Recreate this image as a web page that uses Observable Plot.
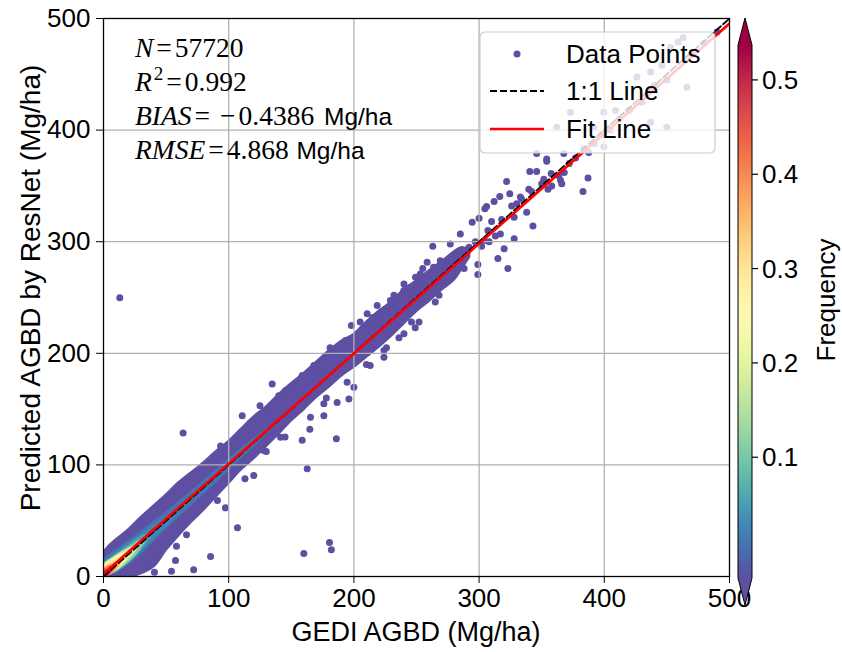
<!DOCTYPE html>
<html><head><meta charset="utf-8">
<script src="https://cdn.jsdelivr.net/npm/d3@7"></script>
<script src="https://cdn.jsdelivr.net/npm/@observablehq/plot@0.6"></script>
<style>
body{margin:0;background:#fff}
#chart{position:relative;width:842px;height:652px}
</style>
</head><body><div id="chart"></div>
<script>
// ---------- data ----------
const xTicks = [0, 100, 200, 300, 400, 500];
const yTicks = [0, 100, 200, 300, 400, 500];
const cbTicks = [0.1, 0.2, 0.3, 0.4, 0.5];

// statistics box
const statN = 57720, statR2 = "0.992", statBias = "0.4386", statRmse = "4.868";

// envelope of the dense point cloud (GEDI x, predicted lower / upper)
const bandX  = [0, 5, 10, 20, 30, 40, 50, 60, 70, 80, 90, 100, 110, 120, 130, 140, 150, 160, 170, 180, 190, 200, 210, 220, 230, 240, 250, 260, 270, 280, 286, 292];
const bandLo = [0, 0, 0, 0, 3, 9, 24, 37, 49, 60, 72, 84, 96, 106, 117, 128, 140, 150, 161, 170, 180, 188, 197, 206, 216, 227, 238, 247, 257, 266, 276, 286];
const bandHi = [20, 27, 32, 41, 52, 62, 72, 83, 92, 101, 111, 120, 131, 142, 151, 162, 172, 181, 191, 201, 210, 216, 227, 237, 245, 256, 264, 273, 281, 290, 294, 292];

// density levels near the origin (frequency, x, lower, upper)
const coreFreq = [0.008, 0.025, 0.06, 0.11, 0.17, 0.23, 0.29, 0.36, 0.43, 0.50];
const coreX  = [[0, 20, 50, 80, 110, 140], [0, 10, 20, 40, 60, 75], [0, 10, 20, 30, 40], [0, 10, 20, 28, 34], [0, 8, 16, 24, 28], [0, 6, 12, 18, 23], [0, 5, 10, 15, 19], [0, 5, 10, 14], [0, 4, 8, 11], [0, 3, 6, 8]];
const coreLo = [[0, 10, 42, 73, 105, 137], [0, 3, 11, 33, 56, 74], [0, 4, 12, 23, 38], [0, 4, 12, 21, 32], [0, 3, 10, 19, 26], [0, 2, 7, 14, 21], [0, 2, 6, 11, 17], [0, 1, 5, 11], [0, 1, 4, 9], [0, 0, 3, 7]];
const coreHi = [[16, 32, 58, 86, 115, 140], [13, 21, 30, 46, 62, 75], [12, 20, 28, 36, 40], [12, 19, 26, 32, 34], [11, 17, 23, 27, 28], [10, 15, 19, 22, 23], [9, 13, 16, 18, 19], [7, 11, 13, 14], [6, 9, 10, 11], [4, 6, 7, 8]];

// individual scattered points
const ptX = [40.7, 54.3, 57.5, 58.3, 66.3, 72, 85.5, 91, 97.4, 107, 113, 120, 93.5, 63.6, 13, 110.8, 134.7, 158.7, 162.7, 186, 160, 180.5, 182, 164.8, 186.6, 196, 200, 198, 176, 213, 224, 249, 265, 258.5, 245, 253, 263, 263.6, 269, 274.5, 277, 285, 285, 290, 294.5, 299, 299, 300, 304, 304.6, 306, 307, 312, 315, 316.5, 317, 320, 322, 323, 324.5, 328, 328, 330, 333, 338, 339.7, 340.5, 343, 346, 351.7, 354, 357.6, 358, 363.7, 365, 366, 383, 387, 362, 346, 354, 367.6, 373, 383.6, 387.6, 391.6, 399.6, 399.6, 409, 426, 437, 437, 446, 450, 453, 459, 463, 466,
  282, 288, 292, 297, 302, 308, 310, 313, 318, 326, 334, 342, 350, 355, 368, 372, 377, 392, 398, 405, 412, 420, 430, 440, 450, 470, 480, 490,
  205, 215, 232, 240, 255, 210, 226, 236, 268, 246, 125, 140, 145, 130, 170, 178, 181,
  145.4, 158.7, 168, 181.3, 193.3, 210.6, 218.6, 229.2, 239.9, 249.2, 128, 141.4, 165.3, 176, 194.6, 224, 240, 252];
const ptY = [3.9, 4.8, 14.3, 27, 37.4, 6, 18, 68, 61.5, 43.6, 87.5, 90.5, 117, 128.5, 249.7, 144, 172.6, 122, 96.5, 123.4, 20.6, 30.5, 24, 132, 156, 159, 169.6, 225, 144, 189, 202.5, 223, 246, 281.6, 259, 271, 296, 277, 283, 268, 298, 307, 286, 289, 317.5, 270.6, 279.6, 321, 301, 329.5, 331.5, 310, 336, 285, 340.5, 307, 293.6, 354, 276, 343, 302.6, 322, 334, 340, 326.5, 347, 363, 314, 363, 356, 372, 361, 350, 359, 355, 352, 345, 357, 402.6, 379, 374, 379, 416, 383, 380, 402.6, 416, 385, 417.6, 447.5, 452, 407, 458, 402.6, 474, 479, 483, 438.5,
  280, 276, 295, 300, 296, 300, 318, 305, 320, 332, 338, 345, 352, 347, 362, 370, 375, 388, 396, 400, 410, 418, 425, 440, 445, 468, 478, 488,
  228, 232, 252, 262, 276, 190, 205, 214, 252, 228, 153, 162, 125, 112, 188, 160, 205,
  166.7, 180, 189, 204, 211.5, 235.4, 242.8, 247.3, 256.3, 268.2, 113, 124.8, 142.7, 154.7, 174, 196.5, 217.5, 228];

// reference lines
const oneX = [0, 500], oneY = [0, 500];
const fitX = [0, 500], fitY = [2.5, 495.5];

// colorbar range (frequency)
const cbMin = -0.028, cbMax = 0.537;

// ---------- build ----------
const band = bandX.map((x, i) => ({x, lo: bandLo[i], hi: bandHi[i]}));
const pts = ptX.map((x, i) => ({x, y: ptY[i]}));
const core = [];
coreFreq.forEach((f, k) => coreX[k].forEach((x, i) => core.push({x, lo: coreLo[k][i], hi: coreHi[k][i], f})));
const oneLine = oneX.map((x, i) => ({x, y: oneY[i]}));
const fitLine = fitX.map((x, i) => ({x, y: fitY[i]}));
const PURPLE = "#5e4fa2";
const SANS = "'Liberation Sans', Arial, sans-serif";

const plot = Plot.plot({
  width: 842, height: 652,
  marginLeft: 103, marginRight: 113, marginTop: 18, marginBottom: 76,
  style: {fontFamily: SANS, fontSize: "26px", color: "#000", background: "#fff", overflow: "visible"},
  x: {domain: [0, 500], ticks: xTicks, tickSize: 7, tickPadding: 5, label: null},
  y: {domain: [0, 500], ticks: yTicks, tickSize: 7, tickPadding: 6, label: null},
  color: {type: "linear", domain: [cbMin, cbMax], scheme: "spectral", reverse: true},
  marks: [
    Plot.areaY(band, {x: "x", y1: "lo", y2: "hi", fill: PURPLE, stroke: PURPLE, strokeWidth: 3.5, strokeLinejoin: "round", curve: "catmull-rom", clip: true}),
    Plot.dot(pts, {x: "x", y: "y", r: 3.5, fill: PURPLE, stroke: "none", clip: true}),
    Plot.areaY(core, {x: "x", y1: "lo", y2: "hi", z: "f", fill: "f", curve: "catmull-rom", clip: true}),
    Plot.ruleX(xTicks.slice(1, -1), {stroke: "#b0b0b0", strokeWidth: 1.3}),
    Plot.ruleY(yTicks.slice(1, -1), {stroke: "#b0b0b0", strokeWidth: 1.3}),
    Plot.line(oneLine, {x: "x", y: "y", stroke: "#000", strokeWidth: 1.8, strokeDasharray: "7,3", clip: true}),
    Plot.line(fitLine, {x: "x", y: "y", stroke: "#ff0000", strokeWidth: 2.6, clip: true}),
    Plot.frame({stroke: "#000", strokeWidth: 1.3})
  ]
});
document.getElementById("chart").appendChild(plot);

const svg = d3.select(plot);
const defs = svg.append("defs");

// ---------- legend ----------
const lg = svg.append("g").attr("font-size", 26).attr("font-family", SANS).attr("text-anchor", "start");
lg.append("rect").attr("x", 480).attr("y", 32).attr("width", 235).attr("height", 121).attr("rx", 5)
  .attr("fill", "#fff").attr("fill-opacity", 0.8).attr("stroke", "#cccccc").attr("stroke-width", 1.2);
lg.append("circle").attr("cx", 517).attr("cy", 54).attr("r", 3.5).attr("fill", PURPLE);
lg.append("line").attr("x1", 490).attr("x2", 544).attr("y1", 91).attr("y2", 91).attr("stroke", "#000").attr("stroke-width", 1.8).attr("stroke-dasharray", "7,3");
lg.append("line").attr("x1", 490).attr("x2", 544).attr("y1", 129).attr("y2", 129).attr("stroke", "#ff0000").attr("stroke-width", 2.6);
[["Data Points", 54], ["1:1 Line", 91], ["Fit Line", 129]].forEach(([t, y]) =>
  lg.append("text").attr("x", 566).attr("y", y).attr("dy", "0.35em").attr("fill", "#000").text(t));

// ---------- statistics text ----------
const st = svg.append("g").attr("font-size", 27.5).attr("fill", "#000").attr("text-anchor", "start")
  .attr("font-family", "'Liberation Serif', 'Times New Roman', serif");
function mathLine(y, parts) {
  const t = st.append("text").attr("x", 135).attr("y", y);
  parts.forEach(p => {
    const s = t.append("tspan").text(p.t);
    if (p.i) s.attr("font-style", "italic");
    if (p.sans) s.attr("font-family", SANS).attr("font-size", 24.5);
    if (p.dx) s.attr("dx", p.dx);
    if (p.dy) s.attr("dy", p.dy);
    if (p.fs) s.attr("font-size", p.fs);
  });
}
mathLine(57, [{t: "N", i: 1}, {t: "=", dx: 3}, {t: String(statN), dx: 3}]);
mathLine(91, [{t: "R", i: 1}, {t: "2", fs: 19, dy: -11, dx: 2}, {t: "=", dy: 11, dx: 3}, {t: statR2, dx: 3}]);
mathLine(125, [{t: "BIAS", i: 1}, {t: "=", dx: 3}, {t: "\u2212", dx: 10}, {t: statBias, dx: 3}, {t: "\u00a0Mg/ha", sans: 1, dx: 3}]);
mathLine(159, [{t: "RMSE", i: 1}, {t: "=", dx: 3}, {t: statRmse, dx: 3}, {t: "\u00a0Mg/ha", sans: 1, dx: 1}]);

// ---------- axis titles ----------
const at = svg.append("g").attr("fill", "#000").attr("font-family", SANS).attr("text-anchor", "middle");
at.append("text").attr("font-size", 27).attr("x", 416).attr("y", 632).attr("dy", "0.35em").text("GEDI AGBD (Mg/ha)");
at.append("text").attr("font-size", 28).attr("transform", "translate(30,288) rotate(-90)").attr("dy", "0.35em").text("Predicted AGBD by ResNet (Mg/ha)");

// ---------- colorbar ----------
const cbX = 738, cbW = 14, cbTop = 45, cbBot = 578, tipTop = 18, tipBot = 605;
const cy = d3.scaleLinear().domain([cbMin, cbMax]).range([cbBot, cbTop]);
let cscale = null;
try { cscale = plot.scale("color"); } catch (e) { cscale = null; }
const colorOf = v => (cscale && cscale.apply) ? cscale.apply(v) : d3.interpolateSpectral(1 - (v - cbMin) / (cbMax - cbMin));
const grad = defs.append("linearGradient").attr("id", "cbGrad").attr("x1", 0).attr("x2", 0).attr("y1", 1).attr("y2", 0);
d3.range(0, 41).forEach(i => {
  const v = cbMin + (cbMax - cbMin) * i / 40;
  grad.append("stop").attr("offset", i / 40).attr("stop-color", colorOf(v));
});
const cb = svg.append("g");
cb.append("rect").attr("x", cbX).attr("y", cbTop).attr("width", cbW).attr("height", cbBot - cbTop).attr("fill", "url(#cbGrad)");
cb.append("path").attr("d", `M${cbX},${cbTop}L${cbX + cbW / 2},${tipTop}L${cbX + cbW},${cbTop}Z`).attr("fill", colorOf(cbMax));
cb.append("path").attr("d", `M${cbX},${cbBot}L${cbX + cbW / 2},${tipBot}L${cbX + cbW},${cbBot}Z`).attr("fill", colorOf(cbMin));
cb.append("path").attr("d", `M${cbX},${cbTop}L${cbX + cbW / 2},${tipTop}L${cbX + cbW},${cbTop}L${cbX + cbW},${cbBot}L${cbX + cbW / 2},${tipBot}L${cbX},${cbBot}Z`)
  .attr("fill", "none").attr("stroke", "#000").attr("stroke-width", 1);
const cbt = cb.append("g").attr("font-size", 26).attr("font-family", SANS).attr("fill", "#000").attr("text-anchor", "start");
cbTicks.forEach(v => {
  cbt.append("line").attr("x1", cbX + cbW).attr("x2", cbX + cbW + 6).attr("y1", cy(v)).attr("y2", cy(v)).attr("stroke", "#000").attr("stroke-width", 1.2);
  cbt.append("text").attr("x", cbX + cbW + 10).attr("y", cy(v)).attr("dy", "0.35em").text(v.toFixed(1));
});
cbt.append("text").attr("transform", "translate(826,300) rotate(-90)").attr("text-anchor", "middle").attr("dy", "0.35em").text("Frequency");
</script></body></html>
